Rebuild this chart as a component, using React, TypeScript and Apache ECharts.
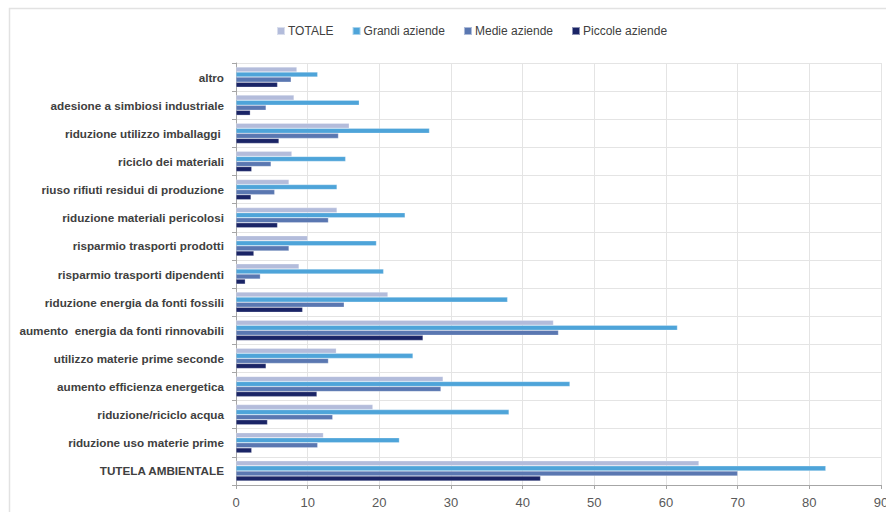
import React, { useEffect, useRef } from "react";
import * as echarts from "echarts";

const categories = [
  "altro",
  "adesione a simbiosi industriale",
  "riduzione utilizzo imballaggi ",
  "riciclo dei materiali",
  "riuso rifiuti residui di produzione",
  "riduzione materiali pericolosi",
  "risparmio trasporti prodotti",
  "risparmio trasporti dipendenti",
  "riduzione energia da fonti fossili",
  "aumento  energia da fonti rinnovabili",
  "utilizzo materie prime seconde",
  "aumento efficienza energetica",
  "riduzione/riciclo acqua",
  "riduzione uso materie prime",
  "TUTELA AMBIENTALE",
];

const totale = [8.5, 8.1, 15.8, 7.8, 7.4, 14.1, 10.0, 8.8, 21.2, 44.3, 14.0, 28.9, 19.1, 12.2, 64.6];
const grandi = [11.4, 17.2, 27.0, 15.3, 14.1, 23.6, 19.6, 20.6, 37.9, 61.6, 24.7, 46.6, 38.1, 22.8, 82.3];
const medie = [7.7, 4.2, 14.3, 4.9, 5.4, 12.9, 7.4, 3.4, 15.1, 45.0, 12.9, 28.6, 13.5, 11.4, 70.0];
const piccole = [5.8, 2.0, 6.0, 2.2, 2.1, 5.8, 2.5, 1.3, 9.3, 26.1, 4.2, 11.3, 4.4, 2.2, 42.5];

const seriesNames = ["TOTALE", "Grandi aziende", "Medie aziende", "Piccole aziende"];
const seriesColors = ["#b3bcdb", "#4ea4d9", "#5a77b1", "#1a2466"];

export default function App() {
  const ref = useRef<HTMLDivElement>(null);
  useEffect(() => {
    document.body.style.margin = "0";
    const chart = echarts.init(ref.current!, undefined, { renderer: "svg" });
    const data = [totale, grandi, medie, piccole];
    chart.setOption({
      animation: false,
      textStyle: { fontFamily: "Liberation Sans, Arial, sans-serif" },
      graphic: [
        {
          type: "rect",
          left: 7,
          top: 6,
          shape: { width: 900, height: 520 },
          style: { fill: "none", stroke: "#e2e2e2", lineWidth: 1.5 },
          silent: true,
        },
      ],
      legend: {
        top: 20,
        left: 271,
        itemWidth: 8,
        itemHeight: 8,
        itemGap: 18,
        icon: "rect",
        textStyle: { color: "#404040", fontSize: 12, padding: [0, 0, 0, -2] },
        data: seriesNames,
      },
      grid: { left: 236, right: 5, top: 63, bottom: 27, containLabel: false, outerBoundsMode: "none" },
      xAxis: {
        type: "value",
        min: 0,
        max: 90,
        interval: 10,
        axisLine: { show: true, lineStyle: { color: "#a6a6a6", width: 1 } },
        axisTick: { show: true, length: 4, lineStyle: { color: "#a6a6a6" } },
        axisLabel: { color: "#595959", fontSize: 13, margin: 11 },
        splitLine: { show: true, lineStyle: { color: "#e4e4e4", width: 1 } },
      },
      yAxis: {
        type: "category",
        data: categories,
        inverse: true,
        axisLine: { show: true, lineStyle: { color: "#a6a6a6", width: 1 } },
        axisTick: { show: true, length: 4, lineStyle: { color: "#a6a6a6" } },
        axisLabel: { color: "#404040", fontSize: 11.7, fontWeight: "bold", margin: 12 },
        splitLine: { show: true, lineStyle: { color: "#e4e4e4", width: 1 } },
      },
      series: seriesNames.map((name, i) => ({
        name,
        type: "bar",
        data: data[i],
        barGap: "0%",
        barCategoryGap: "28%",
        itemStyle: { color: seriesColors[i], borderColor: "rgba(255,255,255,0.5)", borderWidth: 0.5 },
      })),
    });
    return () => chart.dispose();
  }, []);
  return <div ref={ref} style={{ width: 886, height: 512 }} />;
}
